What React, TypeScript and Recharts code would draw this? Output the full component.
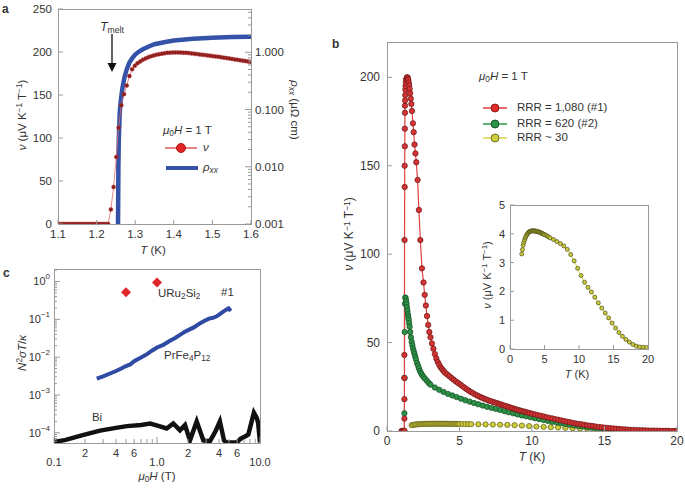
import React from "react";
import { ComposedChart, Line, XAxis, YAxis } from "recharts";

const FONT = "'Liberation Sans', Arial, sans-serif";
const INK = "#333";
const AX = "#9a9a9a";

// ---------- panel a : nu and rho_xx vs T ----------
const aNu: [number, number][] = [
  [1.1, 0], [1.105, 0], [1.11, 0], [1.115, 0], [1.12, 0], [1.125, 0], [1.13, 0], [1.135, 0], [1.14, 0],
  [1.145, 0], [1.15, 0], [1.155, 0], [1.16, 0], [1.165, 0], [1.17, 0], [1.175, 0], [1.18, 0], [1.185, 0],
  [1.19, 0], [1.195, 0], [1.2, 0], [1.205, 0], [1.21, 0], [1.215, 0], [1.22, 0], [1.225, 0], [1.23, 0],
  [1.237, 17], [1.244, 43], [1.251, 78], [1.257, 112], [1.264, 138], [1.271, 151], [1.278, 161], [1.285, 172],
  [1.292, 180], [1.299, 184], [1.306, 187], [1.313, 189], [1.32, 191], [1.327, 192.5], [1.334, 194], [1.341, 195],
  [1.348, 196], [1.355, 196.8], [1.362, 197.5], [1.369, 198], [1.376, 198.5], [1.383, 199], [1.39, 199.2],
  [1.397, 199.4], [1.404, 199.5], [1.411, 199.5], [1.418, 199.4], [1.425, 199.2], [1.432, 199], [1.439, 198.7],
  [1.446, 198.4], [1.453, 198], [1.46, 197.6], [1.467, 197.2], [1.474, 196.8], [1.481, 196.4], [1.488, 196],
  [1.495, 195.6], [1.502, 195.2], [1.509, 194.8], [1.516, 194.4], [1.523, 193.9], [1.53, 193.4], [1.537, 192.9],
  [1.544, 192.4], [1.551, 191.9], [1.558, 191.4], [1.565, 190.9], [1.572, 190.4], [1.579, 189.9], [1.586, 189.4],
  [1.593, 188.9], [1.6, 188.4],
];
const aRho: [number, number][] = [
  [1.2555, 0.001], [1.256, 0.003], [1.2565, 0.01], [1.2575, 0.03], [1.26, 0.09], [1.263, 0.15], [1.267, 0.24],
  [1.272, 0.36], [1.278, 0.5], [1.285, 0.66], [1.293, 0.8], [1.3, 0.91], [1.31, 1.03], [1.32, 1.13], [1.335, 1.26],
  [1.35, 1.38], [1.375, 1.5], [1.4, 1.6], [1.45, 1.72], [1.5, 1.8], [1.55, 1.84], [1.6, 1.87],
];
const aNuTicks = [0, 50, 100, 150, 200, 250];
const aRhoTicks = [
  0.001, 0.002, 0.003, 0.004, 0.005, 0.006, 0.007, 0.008, 0.009,
  0.01, 0.02, 0.03, 0.04, 0.05, 0.06, 0.07, 0.08, 0.09,
  0.1, 0.2, 0.3, 0.4, 0.5, 0.6, 0.7, 0.8, 0.9, 1, 2, 3, 4, 5,
];
const aRhoLabels: Record<string, string> = { "0.001": "0.001", "0.01": "0.010", "0.1": "0.100", "1": "1.000" };
const aTTicks = [1.1, 1.2, 1.3, 1.4, 1.5, 1.6];

// ---------- panel b : nu vs T for three samples ----------
const bRed: [number, number][] = [
  [1.0, 0], [1.08, 0], [1.15, 0], [1.2, 0], [1.2, 7], [1.2, 18], [1.2, 30], [1.2, 43], [1.21, 108], [1.22, 138],
  [1.22, 150], [1.23, 161], [1.23, 171], [1.24, 180], [1.24, 184], [1.25, 187], [1.26, 190], [1.27, 193],
  [1.28, 195], [1.3, 197], [1.32, 198.5], [1.35, 199.5], [1.38, 200], [1.41, 200], [1.44, 199.5], [1.47, 198.5],
  [1.5, 197], [1.53, 195.5], [1.56, 193.5], [1.6, 191], [1.64, 188], [1.68, 185], [1.72, 181], [1.79, 174],
  [1.84, 169], [1.9, 162], [1.96, 157], [2.02, 152], [2.11, 142], [2.2, 125], [2.3, 108], [2.41, 92], [2.52, 84],
  [2.6, 77], [2.68, 71], [2.76, 65], [2.84, 60], [2.92, 56], [3.0, 53], [3.1, 49.5], [3.2, 46.5], [3.3, 43.5],
  [3.4, 41], [3.5, 39], [3.6, 37.5], [3.7, 36], [3.8, 35], [3.9, 34], [4.0, 33], [4.15, 32], [4.3, 31],
  [4.45, 30], [4.6, 29], [4.75, 28], [4.9, 27.2], [5.05, 26.3], [5.2, 25.4], [5.35, 24.5], [5.5, 23.6],
  [5.65, 22.8], [5.8, 22], [5.95, 21.3], [6.1, 20.6], [6.25, 20], [6.4, 19.4], [6.55, 18.8], [6.7, 18.3],
  [6.85, 17.8], [7.0, 17.3], [7.15, 16.9], [7.3, 16.5], [7.45, 16.1], [7.6, 15.7], [7.75, 15.3], [7.9, 14.9],
  [8.05, 14.5], [8.2, 14.1], [8.35, 13.7], [8.5, 13.3], [8.65, 12.9], [8.8, 12.5], [8.95, 12.1], [9.1, 11.8],
  [9.25, 11.4], [9.4, 11.1], [9.55, 10.8], [9.7, 10.4], [9.85, 10.1], [10.0, 9.8], [10.2, 9.4], [10.4, 9],
  [10.6, 8.6], [10.8, 8.2], [11.0, 7.8], [11.2, 7.4], [11.4, 7.1], [11.6, 6.7], [11.8, 6.4], [12.0, 6.0],
  [12.2, 5.7], [12.4, 5.3], [12.6, 5.0], [12.8, 4.6], [13.0, 4.3], [13.2, 4.0], [13.4, 3.8], [13.6, 3.5],
  [13.8, 3.2], [14.0, 3.0], [14.2, 2.8], [14.4, 2.5], [14.6, 2.3], [14.8, 2.1], [15.0, 1.9], [15.2, 1.7],
  [15.4, 1.6], [15.6, 1.4], [15.8, 1.3], [16.0, 1.1], [16.2, 1.0], [16.4, 0.9], [16.6, 0.8], [16.8, 0.6],
  [17.0, 0.6], [17.2, 0.5], [17.4, 0.4], [17.6, 0.4], [17.8, 0.3], [18.0, 0.3], [18.2, 0.2], [18.4, 0.2],
  [18.6, 0.2], [18.8, 0.1], [19.0, 0.1], [19.2, 0.1], [19.4, 0.1], [19.6, 0], [19.8, 0], [20.0, 0],
];
const bGreen: [number, number][] = [
  [1.1, 0], [1.2, 0], [1.2, 10], [1.21, 30], [1.22, 56], [1.24, 72], [1.26, 75.5], [1.29, 75], [1.32, 73.5],
  [1.35, 72], [1.38, 70], [1.41, 68], [1.44, 66], [1.47, 64.5], [1.5, 63], [1.53, 61], [1.56, 59], [1.6, 56],
  [1.65, 53], [1.7, 50.5], [1.75, 48.5], [1.8, 46.5], [1.85, 45], [1.9, 43.5], [1.95, 42], [2.0, 40.5],
  [2.07, 38.5], [2.14, 37], [2.2, 35.5], [2.27, 34], [2.35, 32.7], [2.43, 31.6], [2.52, 30.6], [2.62, 29.6],
  [2.75, 28.4], [2.88, 27.2], [3.0, 26.2], [3.3, 24.6], [3.6, 23.3], [3.9, 22.1], [4.2, 21], [4.5, 20.1],
  [4.8, 19.2], [5.1, 18.3], [5.4, 17.4], [5.7, 16.6], [6.0, 15.8], [6.3, 15.1], [6.6, 14.4], [6.9, 13.7],
  [7.2, 13.1], [7.5, 12.5], [7.8, 11.9], [8.1, 11.2], [8.4, 10.6], [8.7, 10], [9.0, 9.4], [9.3, 8.8],
  [9.6, 8.3], [9.9, 7.8], [10.2, 7.2], [10.5, 6.7], [10.8, 6.2], [11.1, 5.7], [11.4, 5.2], [11.7, 4.8],
  [12.0, 4.4], [12.3, 4.0], [12.6, 3.6], [12.9, 3.2], [13.2, 2.8], [13.5, 2.5], [13.8, 2.2], [14.1, 1.9],
  [14.4, 1.6], [14.7, 1.3], [15.0, 1.1], [15.3, 0.9], [15.6, 0.7], [15.9, 0.5], [16.2, 0.4], [16.5, 0.3],
  [16.8, 0.2], [17.1, 0.1], [17.4, 0.1], [17.7, 0],
];
const bYellow: [number, number][] = [
  [1.7, 3.3], [1.8, 3.45], [1.9, 3.6], [2.0, 3.7], [2.1, 3.78], [2.2, 3.85], [2.3, 3.9], [2.4, 3.95],
  [2.5, 3.99], [2.6, 4.02], [2.7, 4.05], [2.8, 4.07], [2.9, 4.08], [3.0, 4.09], [3.1, 4.1], [3.2, 4.1],
  [3.3, 4.1], [3.4, 4.1], [3.5, 4.1], [3.6, 4.1], [3.7, 4.09], [3.8, 4.09], [3.9, 4.08], [4.0, 4.08],
  [4.1, 4.07], [4.2, 4.06], [4.3, 4.05], [4.4, 4.04], [4.5, 4.03], [4.6, 4.02], [4.7, 4.01], [4.8, 4.0],
  [4.9, 3.98], [5.0, 3.97], [5.2, 3.95], [5.4, 3.92], [5.6, 3.89], [5.8, 3.86], [6.3, 3.8], [6.8, 3.73],
  [7.3, 3.66], [7.8, 3.58], [8.3, 3.46], [8.8, 3.28], [9.3, 3.06], [9.8, 2.8], [10.3, 2.55], [10.8, 2.32],
  [11.3, 2.14], [11.8, 1.98], [12.3, 1.8], [12.8, 1.6], [13.3, 1.42], [13.8, 1.25], [14.3, 1.08], [14.8, 0.9],
  [15.3, 0.73], [15.8, 0.57], [16.3, 0.44], [16.8, 0.33], [17.3, 0.24], [17.8, 0.16], [18.3, 0.1],
  [18.8, 0.07], [19.3, 0.06], [19.8, 0.05],
];
const bTTicks = [0, 5, 10, 15, 20];
const bNuTicks = [0, 50, 100, 150, 200];
const insetNuTicks = [0, 1, 2, 3, 4, 5];

// ---------- panel c : N^2 sigma T / kappa vs field ----------
const cBi: [number, number][] = [
  [0.1, 5.7e-5], [0.13, 6.5e-5], [0.19, 8.7e-5], [0.28, 1.14e-4], [0.4, 1.35e-4], [0.51, 1.5e-4], [0.7, 1.6e-4],
  [0.86, 1.75e-4], [1.05, 1.5e-4], [1.24, 1.3e-4], [1.44, 1.77e-4], [1.67, 1.17e-4], [1.87, 1.6e-4],
  [2.09, 6.3e-5], [2.43, 2e-4], [2.82, 6.3e-5], [3.27, 6e-5], [3.7, 1.1e-4], [4.08, 2e-4], [4.47, 6.3e-5],
  [4.75, 5.5e-5], [5.3, 5.5e-5], [5.93, 5.5e-5], [6.5, 7e-5], [7.15, 8e-5], [7.7, 9e-5], [8.3, 2e-4],
  [8.73, 3.4e-4], [9.3, 2.5e-4], [9.6, 1.8e-4], [10, 5.5e-5],
];
const cPr: [number, number][] = [
  [0.26, 0.0027], [0.3, 0.0031], [0.35, 0.0037], [0.4, 0.0043], [0.45, 0.005], [0.5, 0.0058], [0.55, 0.0064],
  [0.6, 0.0078], [0.7, 0.0098], [0.8, 0.012], [0.9, 0.015], [1.0, 0.018], [1.15, 0.021], [1.3, 0.026],
  [1.5, 0.032], [1.7, 0.04], [1.9, 0.048], [2.1, 0.055], [2.3, 0.062], [2.6, 0.078], [2.9, 0.092], [3.2, 0.104],
  [3.5, 0.11], [3.8, 0.12], [4.1, 0.14], [4.4, 0.16], [4.7, 0.18], [4.95, 0.195], [5.2, 0.165],
];
const cURu: [number, number][] = [[0.5, 0.52], [1.0, 0.94]];
const cHTicks = [0.1, 0.2, 0.3, 0.4, 0.5, 0.6, 0.7, 0.8, 0.9, 1, 2, 3, 4, 5, 6, 7, 8, 9, 10];
const cHLabels: Record<string, string> = { "0.1": "0.1", "0.2": "2", "0.4": "4", "0.6": "6", "1": "1.0", "2": "2", "4": "4", "6": "6", "10": "10.0" };
const cHMajor = [0.1, 1, 10];
const cNTicks = [
  6e-5, 7e-5, 8e-5, 9e-5, 1e-4, 2e-4, 3e-4, 4e-4, 5e-4, 6e-4, 7e-4, 8e-4, 9e-4,
  1e-3, 2e-3, 3e-3, 4e-3, 5e-3, 6e-3, 7e-3, 8e-3, 9e-3, 0.01, 0.02, 0.03, 0.04, 0.05, 0.06, 0.07, 0.08, 0.09,
  0.1, 0.2, 0.3, 0.4, 0.5, 0.6, 0.7, 0.8, 0.9, 1, 2,
];
const cNMajor = [1e-4, 1e-3, 0.01, 0.1, 1];

const pts = (a: [number, number][]) => a.map(([t, v]) => ({ t, v }));

type Side = "left" | "right" | "bottom";
type TickCfg = {
  side: Side;
  len: (v: number) => number;
  label: (v: number) => React.ReactNode;
  off: (v: number) => number;
  size: number;
};
const mkTick = (c: TickCfg) => (p: any) => {
  const x = Number(p.x);
  const y = Number(p.y);
  const v = p.payload.value as number;
  const l = c.len(v);
  const lab = c.label(v);
  const o = c.off(v);
  const txt = { fill: INK, fontSize: c.size, fontFamily: FONT };
  if (c.side === "left")
    return (
      <g>
        <line x1={x} y1={y} x2={x + l} y2={y} stroke={AX} />
        {lab != null && (
          <text x={x - o} y={y} textAnchor="end" dominantBaseline="central" {...txt}>{lab}</text>
        )}
      </g>
    );
  if (c.side === "right")
    return (
      <g>
        <line x1={x} y1={y} x2={x - l} y2={y} stroke={AX} />
        {lab != null && (
          <text x={x + o} y={y} textAnchor="start" dominantBaseline="central" {...txt}>{lab}</text>
        )}
      </g>
    );
  return (
    <g>
      <line x1={x} y1={y} x2={x} y2={y - l} stroke={AX} />
      {lab != null && (
        <text x={x} y={y + o} textAnchor="middle" dominantBaseline="central" {...txt}>{lab}</text>
      )}
    </g>
  );
};

const pow10 = (v: number) => (
  <>
    <tspan>10</tspan>
    <tspan dy={-5} fontSize={8}>{String(Math.round(Math.log10(v))).replace("-", "\u2212")}</tspan>
  </>
);

function Frame({ l, t, r, b }: { l: number; t: number; r: number; b: number }) {
  return (
    <div
      style={{
        position: "absolute", left: l, top: t, width: r - l + 1, height: b - t + 1,
        border: `1px solid ${AX}`, boxSizing: "border-box",
      }}
    />
  );
}

function Txt({ x, y, children, size = 11, align = "left", rot = 0, bold = false, italic = false }: any) {
  const tx = align === "left" ? "0" : align === "center" ? "-50%" : "-100%";
  return (
    <div
      style={{
        position: "absolute", left: x, top: y, transform: `translate(${tx}, -50%) rotate(${rot}deg)`,
        fontSize: size, fontFamily: FONT, color: INK, whiteSpace: "nowrap", lineHeight: 1,
        fontWeight: bold ? 700 : 400, fontStyle: italic ? "italic" : "normal",
      }}
    >
      {children}
    </div>
  );
}

const sub = (s: string, it = false) => (
  <sub style={{ fontSize: "0.72em", verticalAlign: "-0.25em", fontStyle: it ? "italic" : "normal" }}>{s}</sub>
);
const sup = (s: string) => <sup style={{ fontSize: "0.72em", verticalAlign: "0.45em" }}>{s}</sup>;
const nuUnit = (
  <>
    <i>ν</i> (μV K{sup("−1")} T{sup("−1")})
  </>
);

function Swatch({ x, y, color, fill, stroke, r = 4, w = 24 }: any) {
  return (
    <svg style={{ position: "absolute", left: x, top: y - 6 }} width={w} height={12}>
      <line x1={0} y1={6} x2={w} y2={6} stroke={color} strokeWidth={1.4} />
      <circle cx={w / 2} cy={6} r={r} fill={fill} stroke={stroke} strokeWidth={0.9} />
    </svg>
  );
}

const W = 685;
const H = 488;
// margins that put the plot area at [l, r] x [t, b] (y axis 30 wide, x axis 20 high)
const box = (l: number, t: number, r: number, b: number, rightAxis = false) => ({
  left: l - 30, top: t, right: W - r - (rightAxis ? 30 : 0), bottom: H - b - 20,
});

const redDot = { r: 2.7, fill: "#d43434", stroke: "#6a1414", strokeWidth: 0.7 };
const greenDot = { r: 2.7, fill: "#2c9146", stroke: "#174d22", strokeWidth: 0.7 };
const yellowDot = { r: 2.6, fill: "#cccc3c", stroke: "#5a5a1a", strokeWidth: 0.7 };

const diamond = (p: any) => {
  const { cx, cy, index } = p;
  if (cx == null || cy == null) return <g key={index} />;
  const s = 5;
  return (
    <path key={index} d={`M${cx},${cy - s}L${cx + s},${cy}L${cx},${cy + s}L${cx - s},${cy}Z`} fill="#e0262a" />
  );
};

export default function App() {
  return (
    <div style={{ position: "absolute", left: 0, top: 0, width: W, height: H, background: "#fff", overflow: "hidden" }}>
      <Frame l={58} t={9} r={251} b={224} />
      <Frame l={387} t={42} r={677} b={431} />
      <Frame l={54} t={269} r={260} b={443} />

      {/* panel a */}
      <div style={{ position: "absolute", left: 0, top: 0 }}>
        <ComposedChart width={W} height={H} margin={box(58, 9, 251, 224, true)}>
          <XAxis
            type="number" dataKey="t" domain={[1.1, 1.6]} ticks={aTTicks} interval={0} allowDataOverflow
            height={20} axisLine={false} tickLine={false} tickSize={0} tickMargin={0}
            tick={mkTick({ side: "bottom", len: () => 4, off: () => 10, size: 11.5, label: (v) => v.toFixed(1) })}
          />
          <YAxis
            yAxisId="nu" type="number" domain={[0, 250]} ticks={aNuTicks} interval={0} allowDataOverflow
            width={30} axisLine={false} tickLine={false} tickSize={0} tickMargin={0}
            tick={mkTick({ side: "left", len: () => 5, off: () => 6, size: 11.5, label: (v) => v })}
          />
          <YAxis
            yAxisId="rho" orientation="right" type="number" scale="log" domain={[0.001, 5.7]} ticks={aRhoTicks}
            interval={0} allowDataOverflow width={30} axisLine={false} tickLine={false} tickSize={0} tickMargin={0}
            tick={mkTick({
              side: "right", len: (v) => (aRhoLabels[String(v)] ? 6 : 3), off: () => 4, size: 11.5,
              label: (v) => aRhoLabels[String(v)] ?? null,
            })}
          />
          <Line
            yAxisId="rho" data={pts(aRho)} dataKey="v" stroke="#3452a8" strokeWidth={4.5} dot={false}
            isAnimationActive={false} activeDot={false}
          />
          <Line
            yAxisId="nu" data={pts(aNu)} dataKey="v" stroke="#e06a6a" strokeWidth={0.8}
            dot={{ r: 2, fill: "#8a1c1c", stroke: "#b83a3a", strokeWidth: 0.5 }}
            isAnimationActive={false} activeDot={false}
          />
        </ComposedChart>
      </div>

      {/* panel c */}
      <div style={{ position: "absolute", left: 0, top: 0 }}>
        <ComposedChart width={W} height={H} margin={box(54, 269, 260, 443)}>
          <XAxis
            type="number" dataKey="t" scale="log" domain={[0.1, 10]} ticks={cHTicks} interval={0} allowDataOverflow
            height={20} axisLine={false} tickLine={false} tickSize={0} tickMargin={0}
            tick={mkTick({
              side: "bottom", len: (v) => (cHMajor.includes(v) ? 6 : 4), size: 11,
              off: (v) => (cHMajor.includes(v) ? 19 : 10), label: (v) => cHLabels[String(v)] ?? null,
            })}
          />
          <YAxis
            type="number" scale="log" domain={[5.37e-5, 2.14]} ticks={cNTicks} interval={0} allowDataOverflow
            width={30} axisLine={false} tickLine={false} tickSize={0} tickMargin={0}
            tick={mkTick({
              side: "left", len: (v) => (cNMajor.includes(v) ? 6 : 3), off: () => 4, size: 11,
              label: (v) => (cNMajor.includes(v) ? pow10(v) : null),
            })}
          />
          <Line
            data={pts(cBi)} dataKey="v" stroke="#111" strokeWidth={4.5} strokeLinejoin="miter" dot={false}
            isAnimationActive={false} activeDot={false}
          />
          <Line
            data={pts(cPr)} dataKey="v" stroke="#2e4aa3" strokeWidth={4} dot={false}
            isAnimationActive={false} activeDot={false}
          />
          <Line
            data={pts(cURu)} dataKey="v" stroke="none" dot={diamond} isAnimationActive={false} activeDot={false}
          />
        </ComposedChart>
      </div>

      {/* panel b */}
      <div style={{ position: "absolute", left: 0, top: 0 }}>
        <ComposedChart width={W} height={H} margin={box(387, 42, 677, 431)}>
          <XAxis
            type="number" dataKey="t" domain={[0, 20]} ticks={bTTicks} interval={0} allowDataOverflow
            height={20} axisLine={false} tickLine={false} tickSize={0} tickMargin={0}
            tick={mkTick({ side: "bottom", len: () => 5, off: () => 10, size: 12, label: (v) => v })}
          />
          <YAxis
            type="number" domain={[0, 220]} ticks={bNuTicks} interval={0} allowDataOverflow
            width={30} axisLine={false} tickLine={false} tickSize={0} tickMargin={0}
            tick={mkTick({ side: "left", len: () => 5, off: () => 7, size: 12, label: (v) => v })}
          />
          <Line data={pts(bYellow)} dataKey="v" stroke="#d4d042" strokeWidth={1} dot={yellowDot}
            isAnimationActive={false} activeDot={false} />
          <Line data={pts(bGreen)} dataKey="v" stroke="#2a9040" strokeWidth={1} dot={greenDot}
            isAnimationActive={false} activeDot={false} />
          <Line data={pts(bRed)} dataKey="v" stroke="#e04040" strokeWidth={1.2} dot={redDot}
            isAnimationActive={false} activeDot={false} />
        </ComposedChart>
      </div>

      {/* inset */}
      <div style={{ position: "absolute", left: 510, top: 205, width: 139, height: 145, background: "#fff" }} />
      <Frame l={510} t={205} r={648} b={349} />
      <div style={{ position: "absolute", left: 0, top: 0 }}>
        <ComposedChart width={W} height={H} margin={box(510, 205, 648, 349)}>
          <XAxis
            type="number" dataKey="t" domain={[0, 20]} ticks={bTTicks} interval={0} allowDataOverflow
            height={20} axisLine={false} tickLine={false} tickSize={0} tickMargin={0}
            tick={mkTick({ side: "bottom", len: () => 4, off: () => 10, size: 11, label: (v) => v })}
          />
          <YAxis
            type="number" domain={[0, 5]} ticks={insetNuTicks} interval={0} allowDataOverflow
            width={30} axisLine={false} tickLine={false} tickSize={0} tickMargin={0}
            tick={mkTick({ side: "left", len: () => 4, off: () => 5, size: 11, label: (v) => v })}
          />
          <Line data={pts(bYellow)} dataKey="v" stroke="#d4d042" strokeWidth={1}
            dot={{ r: 2, fill: "#cccc3c", stroke: "#4a4a18", strokeWidth: 0.7 }}
            isAnimationActive={false} activeDot={false} />
        </ComposedChart>
      </div>

      {/* panel a texts */}
      <Txt x={2} y={9} size={12} bold>a</Txt>
      <Txt x={112} y={28} size={12} align="center"><i>T</i>{sub("melt")}</Txt>
      <svg style={{ position: "absolute", left: 105, top: 32 }} width={14} height={42}>
        <line x1={7} y1={2} x2={7} y2={34} stroke="#111" strokeWidth={1.3} />
        <path d="M2.5,31 L7,40 L11.5,31 Z" fill="#111" />
      </svg>
      <Txt x={22} y={115} size={11.5} align="center" rot={-90}>{nuUnit}</Txt>
      <Txt x={293} y={110} size={11.5} align="center" rot={90}><i>ρ</i>{sub("xx", true)} (μΩ cm)</Txt>
      <Txt x={153} y={251} size={11.5} align="center"><i>T</i> (K)</Txt>
      <Txt x={163} y={132} size={11.5}><i>μ</i>{sub("0")}<i>H</i> = 1 T</Txt>
      <Swatch x={165} y={148} w={32} r={4.5} color="#e05050" fill="#e02424" stroke="#a01010" />
      <Txt x={203} y={148} size={11.5} italic>ν</Txt>
      <svg style={{ position: "absolute", left: 166, top: 165 }} width={32} height={6}>
        <line x1={0} y1={3} x2={32} y2={3} stroke="#3452a8" strokeWidth={4} />
      </svg>
      <Txt x={203} y={169} size={11.5}><i>ρ</i>{sub("xx", true)}</Txt>

      {/* panel b texts */}
      <Txt x={332} y={44} size={12} bold>b</Txt>
      <Txt x={349} y={234} size={12} align="center" rot={-90}>{nuUnit}</Txt>
      <Txt x={532} y={457} size={12} align="center"><i>T</i> (K)</Txt>
      <Txt x={479} y={78} size={11.5}><i>μ</i>{sub("0")}<i>H</i> = 1 T</Txt>
      <Swatch x={483} y={108} color="#e03030" fill="#e02a2a" stroke="#8a1414" />
      <Swatch x={483} y={123.5} color="#1f9040" fill="#2c9146" stroke="#174d22" />
      <Swatch x={483} y={138} color="#d8d040" fill="#cccc3c" stroke="#6a6a20" />
      <Txt x={517} y={108} size={11.5}>RRR = 1,080 (#1)</Txt>
      <Txt x={517} y={123.5} size={11.5}>RRR = 620 (#2)</Txt>
      <Txt x={517} y={138} size={11.5}>RRR ~ 30</Txt>
      <Txt x={487} y={275} size={11} align="center" rot={-90}>{nuUnit}</Txt>
      <Txt x={577} y={374} size={11} align="center"><i>T</i> (K)</Txt>

      {/* panel c texts */}
      <Txt x={3} y={273} size={12} bold>c</Txt>
      <Txt x={22} y={353} size={11.5} align="center" rot={-90}>
        <i>N</i>{sup("2")}<i>σT</i>/<i>κ</i>
      </Txt>
      <Txt x={157} y={478} size={11.5} align="center"><i>μ</i>{sub("0")}<i>H</i> (T)</Txt>
      <Txt x={97} y={418} size={11.5} align="center">Bi</Txt>
      <Txt x={164} y={357} size={11.5}>PrFe{sub("4")}P{sub("12")}</Txt>
      <Txt x={158} y={295} size={11.5}>URu{sub("2")}Si{sub("2")}</Txt>
      <Txt x={221} y={293} size={11.5}>#1</Txt>
    </div>
  );
}
